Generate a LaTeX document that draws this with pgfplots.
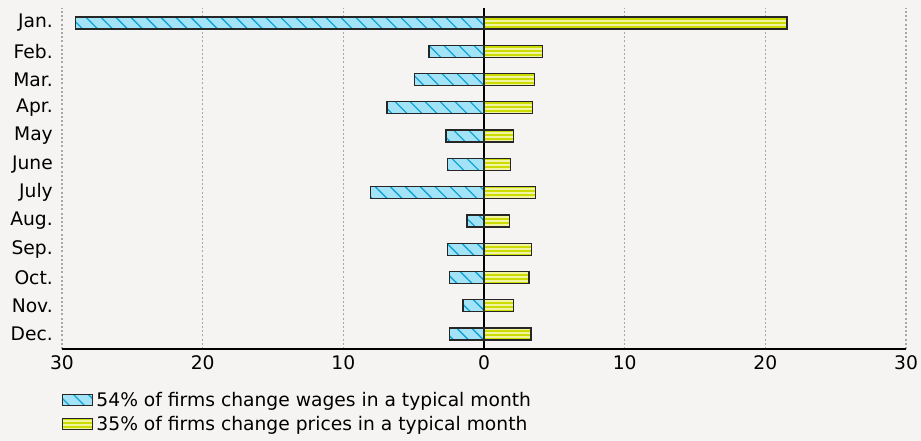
\documentclass[border=0pt]{standalone}
\usepackage{fontspec}
\setmainfont{DejaVu Sans}
\usepackage{pgfplots}
\pgfplotsset{compat=1.18}
\usetikzlibrary{patterns.meta,backgrounds}
\definecolor{bg}{HTML}{F5F4F2}
\definecolor{wfill}{HTML}{A3E3F7}
\definecolor{whatch}{HTML}{12A3D6}
\definecolor{pfill}{HTML}{CCDB00}
\definecolor{pstripe}{HTML}{F1F5A0}
\definecolor{gridc}{HTML}{A8A8A8}
\begin{document}
\begin{tikzpicture}[font=\fontsize{18.7bp}{22bp}\selectfont]
\begin{axis}[
  scale only axis, width=844bp, height=341bp,
  xmin=-30, xmax=30, ymin=-0.53, ymax=11.53,
  axis x line*=bottom, axis y line*=left,
  x axis line style={black, line width=2.6bp, -},
  y axis line style={draw=none},
  xtick={-30,-20,-10,10,20,30},
  xticklabels={30,20,10,10,20,30},
  extra x ticks={0}, extra x tick labels={0},
  extra x tick style={grid=major, major grid style={solid, black, line width=2.8bp}},
  xmajorgrids,
  major grid style={gridc, line width=1.3bp, dash pattern=on 2bp off 2.2bp},
  ytick={0,...,11},
  yticklabels={Dec.,Nov.,Oct.,Sep.,Aug.,July,June,May,Apr.,Mar.,Feb.,Jan.},
  major tick length=0pt,
  xticklabel style={inner sep=0pt, anchor=north, yshift=-6bp},
  yticklabel style={inner sep=0pt, anchor=east, xshift=-9bp},
  mylegend/.style={legend image code/.code={\draw[##1] (0bp,-5.5bp) rectangle (30bp,5.5bp);}},
  legend style={draw=none, fill=none, at={(0,0)}, anchor=north west, yshift=-40bp,
    inner sep=0pt, nodes={inner sep=3bp}, row sep=2.5bp,
    /tikz/every even column/.append style={column sep=4bp}},
  legend cell align=left,
]
\addplot[xbar, bar width=12bp, bar shift=0pt, draw=black!85, line width=1.3bp,
  preaction={fill=wfill, draw=none},
  preaction={pattern={Lines[angle=-45,distance=10.6bp,line width=1.3bp]}, pattern color=whatch, draw=none},
  mylegend]
coordinates {(-29.05,11) (-3.9,10) (-4.95,9) (-6.9,8) (-2.7,7) (-2.6,6) (-8.05,5) (-1.2,4) (-2.6,3) (-2.45,2) (-1.5,1) (-2.45,0)};
\addlegendentry{54\% of firms change wages in a typical month}
\addplot[xbar, bar width=12bp, bar shift=0pt, draw=black!85, line width=1.3bp,
  preaction={fill=pfill, draw=none},
  preaction={pattern={Lines[angle=0,distance=4bp,line width=1.6bp]}, pattern color=pstripe, draw=none},
  mylegend]
coordinates {(21.55,11) (4.15,10) (3.6,9) (3.45,8) (2.1,7) (1.9,6) (3.65,5) (1.8,4) (3.4,3) (3.2,2) (2.1,1) (3.35,0)};
\addlegendentry{35\% of firms change prices in a typical month}
\end{axis}
\pgfresetboundingbox
\begin{scope}[on background layer]
\fill[bg] (current axis.south west) ++(-62bp,-92bp) rectangle ++(921bp,441bp);
\end{scope}
\end{tikzpicture}
\end{document}
